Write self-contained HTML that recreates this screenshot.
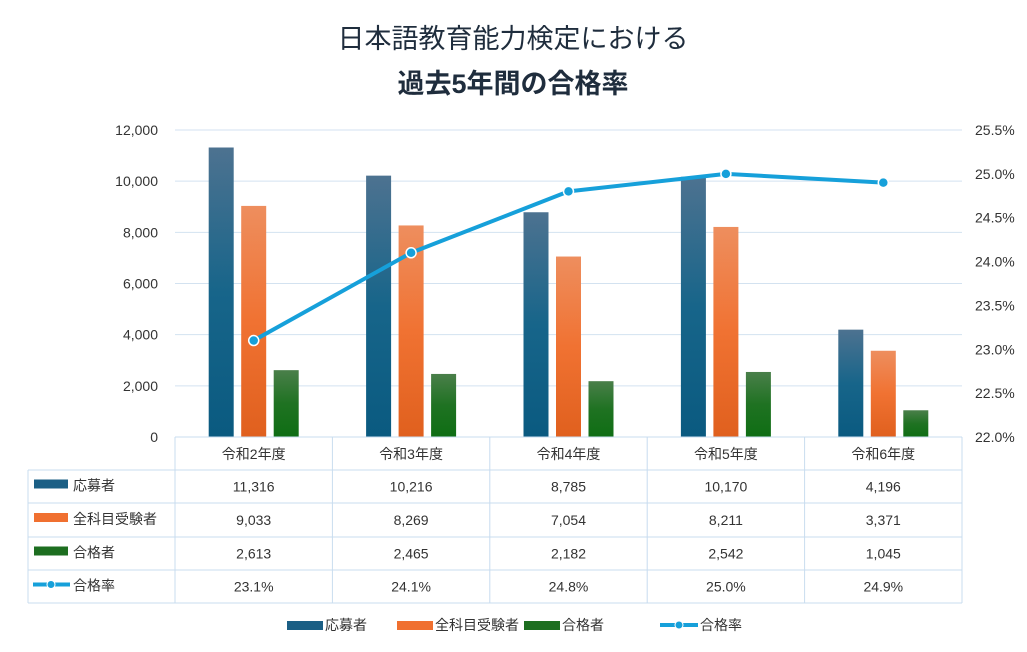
<!DOCTYPE html>
<html><head><meta charset="utf-8">
<style>
body{margin:0;background:#fff;font-family:"Liberation Sans","Noto Sans CJK JP",sans-serif;}
svg text{font-family:"Liberation Sans","Noto Sans CJK JP",sans-serif;}
</style></head>
<body>
<svg id="c" width="1027" height="647" xmlns="http://www.w3.org/2000/svg">
<defs>
<linearGradient id="gb" x1="0" y1="0" x2="0" y2="1"><stop offset="0" stop-color="#4d7290"/><stop offset="0.5" stop-color="#17658a"/><stop offset="1" stop-color="#0a5a80"/></linearGradient>
<linearGradient id="go" x1="0" y1="0" x2="0" y2="1"><stop offset="0" stop-color="#ee8e5e"/><stop offset="0.5" stop-color="#f07232"/><stop offset="1" stop-color="#e0601e"/></linearGradient>
<linearGradient id="gg" x1="0" y1="0" x2="0" y2="1"><stop offset="0" stop-color="#4a7f4a"/><stop offset="0.5" stop-color="#1f7222"/><stop offset="1" stop-color="#0f6e14"/></linearGradient>
</defs>
<text x="513" y="48" text-anchor="middle" font-size="27" fill="#1f2d3d">日本語教育能力検定における</text>
<text x="513" y="93" text-anchor="middle" font-size="27" font-weight="bold" fill="#1f2d3d">過去5年間の合格率</text>
<g id="g"></g>
</svg>
<script>
const categories=["令和2年度","令和3年度","令和4年度","令和5年度","令和6年度"];
const applicants=[11316,10216,8785,10170,4196];
const examinees=[9033,8269,7054,8211,3371];
const passers=[2613,2465,2182,2542,1045];
const passRate=[23.1,24.1,24.8,25.0,24.9];
const leftTicks=[0,2000,4000,6000,8000,10000,12000];
const rightTicks=[22.0,22.5,23.0,23.5,24.0,24.5,25.0,25.5];
const NS="http://www.w3.org/2000/svg";
const g=document.getElementById('g');
const X0=175,X1=962,Y0=437,Y1=130,cw=(X1-X0)/categories.length;
const yL=v=>Y0-(v/12000)*(Y0-Y1);
const yR=v=>Y0-((v-22)/3.5)*(Y0-Y1);
function mk(t,a,txt){const e=document.createElementNS(NS,t);for(const k in a)e.setAttribute(k,a[k]);if(txt!==undefined)e.textContent=txt;g.appendChild(e);return e;}
leftTicks.forEach(v=>{
 if(v>0){const l=mk('line',{x1:X0,x2:X1,y1:yL(v),y2:yL(v),stroke:'#d3e2f0','stroke-width':1});
 
 }
 const t=mk('text',{x:158,y:yL(v)+5,'text-anchor':'end','font-size':14,fill:'#333'},v.toLocaleString('en-US'));
 
 
});
rightTicks.forEach(v=>{
 const t=mk('text',{x:975,y:yR(v)+5,'font-size':14,fill:'#333'},v.toFixed(1)+'%');
 
 
});
const series=[[applicants,'url(#gb)','#1b5f85','応募者'],[examinees,'url(#go)','#f07030','全科目受験者'],[passers,'url(#gg)','#1d6e20','合格者']];
categories.forEach((c,i)=>{
 const cx=X0+cw*(i+0.5);
 series.forEach((s,j)=>{
  const x=cx-45+j*32.5,y=yL(s[0][i]);
  const r=mk('rect',{x:x,y:y,width:25,height:Y0-y,fill:s[1]});
  
  
 });
});
// line
const pts=passRate.map((v,i)=>[X0+cw*(i+0.5),yR(v)]);
const pl=mk('polyline',{points:pts.map(p=>p.join(',')).join(' '),fill:'none',stroke:'#16a0da','stroke-width':4,'stroke-linejoin':'round'});


pts.forEach(p=>{const m=mk('circle',{cx:p[0],cy:p[1],r:5,fill:'#16a0da',stroke:'#fff','stroke-width':1.5});
 
 });
// table
const bc='#c8dcef';
const rows=[470,503,537,570,603];
mk('line',{x1:X0,x2:X0,y1:Y0,y2:603,stroke:bc});
for(let i=1;i<=5;i++)mk('line',{x1:X0+cw*i,x2:X0+cw*i,y1:Y0,y2:603,stroke:bc});
mk('line',{x1:28,x2:28,y1:470,y2:603,stroke:bc});
mk('line',{x1:X0,x2:X1,y1:Y0,y2:Y0,stroke:bc});
rows.forEach(y=>mk('line',{x1:28,x2:X1,y1:y,y2:y,stroke:bc}));
categories.forEach((c,i)=>{const t=mk('text',{x:X0+cw*(i+0.5),y:459,'text-anchor':'middle','font-size':14,fill:'#333'},c);
 
 });
const tdata=[applicants.map(v=>v.toLocaleString('en-US')),examinees.map(v=>v.toLocaleString('en-US')),passers.map(v=>v.toLocaleString('en-US')),passRate.map(v=>v.toFixed(1)+'%')];
const names=['応募者','全科目受験者','合格者','合格率'];
const cols=['#1b5f85','#f07030','#1d6e20'];
tdata.forEach((r,k)=>{
 const yc=(rows[k]+rows[k+1])/2;
 if(k<3)mk('rect',{x:34,y:yc-7,width:34,height:9,fill:cols[k]});
 else{mk('line',{x1:33,x2:70,y1:yc-2,y2:yc-2,stroke:'#16a0da','stroke-width':4});mk('circle',{cx:51,cy:yc-2,r:4,fill:'#16a0da',stroke:'#fff'});}
 const lt=mk('text',{x:73,y:yc+4,'font-size':14,fill:'#333'},names[k]);
 
 
 r.forEach((v,i)=>{const t=mk('text',{x:X0+cw*(i+0.5),y:yc+5,'text-anchor':'middle','font-size':14,fill:'#333'},v);
  
  });
});
// legend
const lx=[287,397,524,660];
names.forEach((n,k)=>{
 if(k<3)mk('rect',{x:lx[k],y:621,width:36,height:9,fill:cols[k]});
 else{mk('line',{x1:lx[k],x2:lx[k]+38,y1:625,y2:625,stroke:'#16a0da','stroke-width':4});mk('circle',{cx:lx[k]+19,cy:625,r:4,fill:'#16a0da',stroke:'#fff'});}
 const t=mk('text',{x:lx[k]+(k<3?38:40),y:630,'font-size':14,fill:'#333'},n);
 
 
});
</script>
</body></html>
